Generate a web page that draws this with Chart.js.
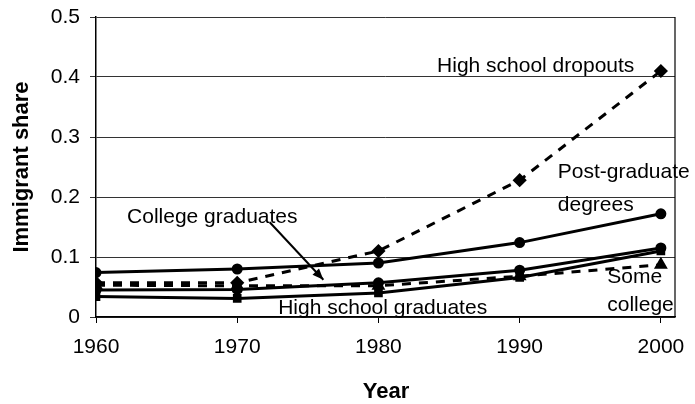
<!DOCTYPE html>
<html>
<head>
<meta charset="utf-8">
<script src="https://cdn.jsdelivr.net/npm/chart.js@4/dist/chart.umd.min.js"></script>
<style>
  html, body { margin: 0; padding: 0; background: #fff; }
  #c { display: block; }
</style>
</head>
<body>
<canvas id="c" width="695" height="404"></canvas>
<script>
// ---- Data ----
const years = [1960, 1970, 1980, 1990, 2000];
const xTicks = [1960, 1970, 1980, 1990, 2000];
const yTicks = [0, 0.1, 0.2, 0.3, 0.4, 0.5];
const dropouts        = [0.057, 0.057, 0.110, 0.228, 0.410];
const postGraduate    = [0.074, 0.080, 0.090, 0.124, 0.172];
const collegeGrads    = [0.045, 0.046, 0.057, 0.078, 0.115];
const highSchoolGrads = [0.034, 0.031, 0.040, 0.066, 0.110];
const someCollege     = [0.053, 0.052, 0.052, 0.068, 0.087];

const xTitle = 'Year';
const yTitle = 'Immigrant share';

// annotation labels, anchored in data units
const labels = [
  { text: 'High school dropouts', x: 1984.15, y: 0.418 },
  { text: 'Post-graduate',        x: 1992.7,  y: 0.242 },
  { text: 'degrees',              x: 1992.7,  y: 0.187 },
  { text: 'College graduates',    x: 1962.2,  y: 0.167 },
  { text: 'High school graduates',x: 1972.9,  y: 0.015 },
  { text: 'Some',                 x: 1996.2,  y: 0.067 },
  { text: 'college',              x: 1996.2,  y: 0.020 }
];
const arrowFrom = { x: 1972.3, y: 0.158 };
const arrowTo   = { x: 1976.1, y: 0.062 };

const FONT = 'Liberation Sans, Arial, sans-serif';

function pts(vals) { return years.map((y, i) => ({ x: y, y: vals[i] })); }

const overlay = {
  id: 'overlay',
  afterDraw(chart) {
    const ctx = chart.ctx, a = chart.chartArea;
    const xs = chart.scales.x, ys = chart.scales.y;
    ctx.save();
    // right border of plot
    ctx.strokeStyle = '#000';
    ctx.lineWidth = 1.2;
    ctx.beginPath();
    ctx.moveTo(a.right, a.top);
    ctx.lineTo(a.right, a.bottom);
    ctx.stroke();
    // annotation texts
    ctx.fillStyle = '#000';
    ctx.font = '21px ' + FONT;
    ctx.textAlign = 'left';
    ctx.textBaseline = 'middle';
    labels.forEach(l => ctx.fillText(l.text, xs.getPixelForValue(l.x), ys.getPixelForValue(l.y)));
    // arrow
    const x1 = xs.getPixelForValue(arrowFrom.x), y1 = ys.getPixelForValue(arrowFrom.y);
    const x2 = xs.getPixelForValue(arrowTo.x),   y2 = ys.getPixelForValue(arrowTo.y);
    ctx.lineWidth = 2;
    ctx.beginPath();
    ctx.moveTo(x1, y1);
    ctx.lineTo(x2, y2);
    ctx.stroke();
    const ang = Math.atan2(y2 - y1, x2 - x1), L = 12, W = 0.38;
    ctx.beginPath();
    ctx.moveTo(x2, y2);
    ctx.lineTo(x2 - L * Math.cos(ang - W), y2 - L * Math.sin(ang - W));
    ctx.lineTo(x2 - L * Math.cos(ang + W), y2 - L * Math.sin(ang + W));
    ctx.closePath();
    ctx.fill();
    // axis titles
    ctx.font = 'bold 22px ' + FONT;
    ctx.textAlign = 'center';
    ctx.textBaseline = 'middle';
    ctx.fillText(xTitle, 386, 392);
    ctx.translate(22, (a.top + a.bottom) / 2);
    ctx.rotate(-Math.PI / 2);
    ctx.fillText(yTitle, 0, 0);
    ctx.restore();
  }
};

const common = { borderColor: '#000', backgroundColor: '#000', pointBorderColor: '#000',
                 pointBackgroundColor: '#000', borderWidth: 3, fill: false, tension: 0 };

new Chart(document.getElementById('c'), {
  type: 'line',
  data: {
    datasets: [
      Object.assign({ label: 'High school dropouts', data: pts(dropouts), borderDash: [9, 8],
                      pointStyle: 'rectRot', pointRadius: 5 }, common),
      Object.assign({ label: 'Post-graduate degrees', data: pts(postGraduate),
                      pointStyle: 'circle', pointRadius: 4 }, common),
      Object.assign({ label: 'College graduates', data: pts(collegeGrads),
                      pointStyle: 'circle', pointRadius: 4 }, common),
      Object.assign({ label: 'High school graduates', data: pts(highSchoolGrads),
                      pointStyle: 'rect', pointRadius: 4 }, common),
      Object.assign({ label: 'Some college', data: pts(someCollege), borderDash: [9, 8],
                      pointStyle: 'triangle', pointRadius: 5 }, common)
    ]
  },
  options: {
    responsive: false,
    animation: false,
    devicePixelRatio: 1,
    layout: { padding: { top: 17, right: 20, left: 0, bottom: 0 } },
    plugins: { legend: { display: false }, tooltip: { enabled: false } },
    scales: {
      x: {
        type: 'linear', min: 1960, max: 2001,
        afterBuildTicks: s => { s.ticks = xTicks.map(v => ({ value: v })); },
        afterFit: s => { s.height = 87; s.paddingLeft = 0; s.paddingRight = 0; },
        grid: { drawOnChartArea: false, drawTicks: true, tickLength: 6, color: '#000', lineWidth: 1 },
        border: { color: '#000', width: 1.5 },
        ticks: { font: { family: FONT, size: 21 }, color: '#000', padding: 12, maxRotation: 0,
                 autoSkip: false, callback: v => String(v) }
      },
      y: {
        min: 0, max: 0.5,
        afterBuildTicks: s => { s.ticks = yTicks.map(v => ({ value: v })); },
        afterFit: s => { s.width = 96; s.paddingTop = 0; s.paddingBottom = 0; },
        grid: { color: '#333', lineWidth: 1, tickLength: 6 },
        border: { color: '#000', width: 1.5 },
        ticks: { font: { family: FONT, size: 21 }, color: '#000', padding: 10,
                 callback: v => (v === 0 ? '0' : Number(v).toFixed(1)) }
      }
    }
  },
  plugins: [overlay]
});
</script>
</body>
</html>
